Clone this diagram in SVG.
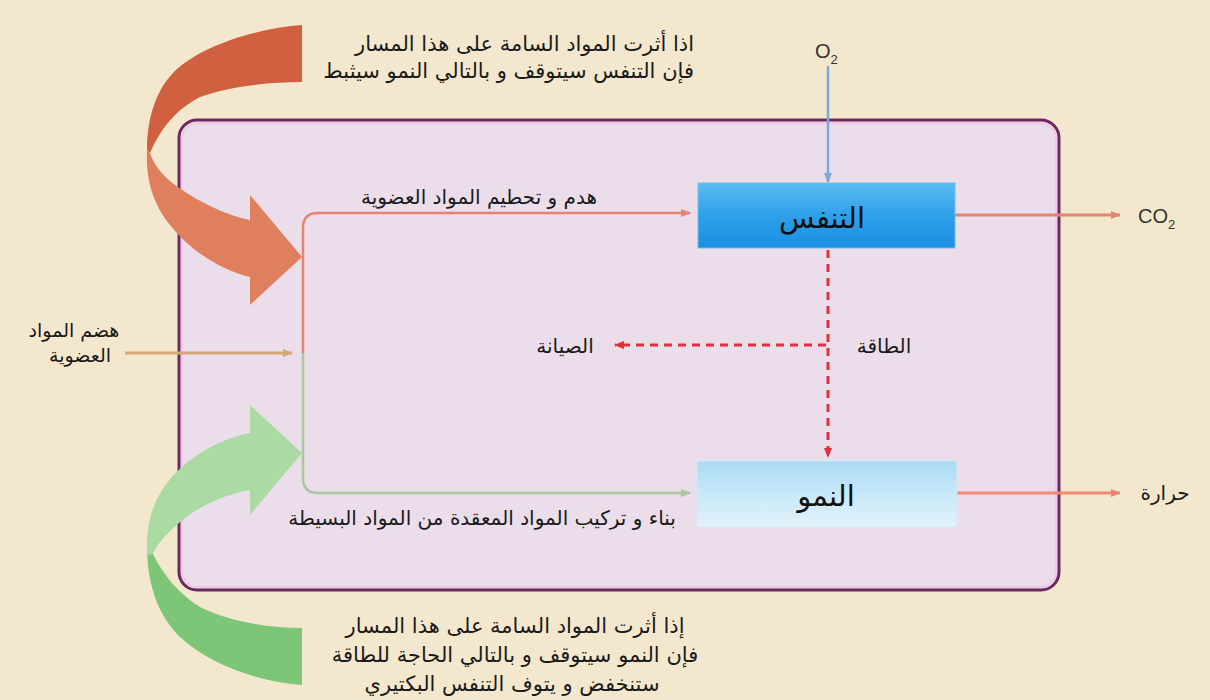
<svg xmlns="http://www.w3.org/2000/svg" width="1210" height="700" viewBox="0 0 1210 700">
<style>
.ar{font-family:"DejaVu Sans",sans-serif;fill:#1a1a1a;}
.lat{font-family:"Liberation Sans",Arial,sans-serif;fill:#333;}
.box{font-family:"DejaVu Serif","DejaVu Sans",serif;fill:#111;}
</style>
<defs>
<linearGradient id="gResp" x1="0" y1="0" x2="0" y2="1">
<stop offset="0" stop-color="#5cbcf0"/><stop offset="0.5" stop-color="#2ea0e8"/><stop offset="1" stop-color="#1a8fe2"/>
</linearGradient>
<linearGradient id="gGrow" x1="0" y1="0" x2="0" y2="1">
<stop offset="0" stop-color="#a9dbf4"/><stop offset="0.5" stop-color="#c8e8f8"/><stop offset="1" stop-color="#e3f2fb"/>
</linearGradient>
<marker id="mOr" markerWidth="10" markerHeight="8" refX="9" refY="4" orient="auto" markerUnits="userSpaceOnUse"><path d="M0,0 L10,4 L0,8 Z" fill="#e58470"/></marker>
<marker id="mRed" markerWidth="10" markerHeight="8" refX="9" refY="4" orient="auto" markerUnits="userSpaceOnUse"><path d="M0,0 L10,4 L0,8 Z" fill="#e0303a"/></marker>
<marker id="mBlue" markerWidth="10" markerHeight="8" refX="9" refY="4" orient="auto" markerUnits="userSpaceOnUse"><path d="M0,0 L10,4 L0,8 Z" fill="#7aaad8"/></marker>
<marker id="mGr" markerWidth="10" markerHeight="8" refX="9" refY="4" orient="auto" markerUnits="userSpaceOnUse"><path d="M0,0 L10,4 L0,8 Z" fill="#a8c8a0"/></marker>
<marker id="mTan" markerWidth="10" markerHeight="8" refX="9" refY="4" orient="auto" markerUnits="userSpaceOnUse"><path d="M0,0 L10,4 L0,8 Z" fill="#d8a878"/></marker>
</defs>
<rect width="1210" height="700" fill="#f3e8cd"/>

<g id="cell">
<rect x="179" y="120" width="880" height="470" rx="18" fill="#ebdeea" stroke="#6a2a60" stroke-width="3"/>
<rect x="182" y="123" width="874" height="464" rx="16" fill="none" stroke="#f2c8e4" stroke-width="2"/>
</g>

<g id="toxic-top-arrow">
<path d="M302,25 C260,28 200,45 173,73 C155,92 147,120 147,150 L150,153 C160,130 175,110 200,97 C230,86 270,82 302,82 Z" fill="#d0603f"/>
<path d="M147,150 C146,175 150,200 170,225 C190,250 220,270 250,277 L250,305 L302,257 L250,195 L250,220 C225,215 195,200 175,185 C162,175 154,165 150,153 Z" fill="#e07f5e"/>
</g>

<g id="toxic-bottom-arrow">
<path d="M302,685 C260,682 210,665 180,637 C160,617 148,590 147,550 L153,554 C163,575 180,595 200,607 C230,622 270,628 302,628 Z" fill="#7dc577"/>
<path d="M147,555 C146,530 150,505 167,483 C185,460 215,440 250,433 L250,405 L302,453 L250,515 L250,490 C228,494 205,503 185,518 C170,530 158,542 153,554 Z" fill="#acdaa3"/>
</g>

<g id="connectors">
<path d="M303,353 L303,228 Q303,213 318,213 L690,213" fill="none" stroke="#e58470" stroke-width="2.5" marker-end="url(#mOr)"/>
<path d="M303,353 L303,478 Q303,493 318,493 L690,493" fill="none" stroke="#a8c8a0" stroke-width="2.5" marker-end="url(#mGr)"/>
<line x1="125" y1="353" x2="292" y2="353" stroke="#d8a878" stroke-width="3" marker-end="url(#mTan)"/>
<line x1="828" y1="66" x2="828" y2="182" stroke="#7aaad8" stroke-width="2.5" marker-end="url(#mBlue)"/>
<line x1="955" y1="215" x2="1120" y2="215" stroke="#e58470" stroke-width="3" marker-end="url(#mOr)"/>
<line x1="957" y1="493" x2="1120" y2="493" stroke="#f08a72" stroke-width="3" marker-end="url(#mOr)"/>
<line x1="828" y1="250" x2="828" y2="457" stroke="#e0303a" stroke-width="3" stroke-dasharray="8,6" marker-end="url(#mRed)"/>
<line x1="826" y1="345" x2="615" y2="345" stroke="#e0303a" stroke-width="3" stroke-dasharray="8,6" marker-end="url(#mRed)"/>
</g>

<g id="node-respiration">
<rect x="698" y="183" width="257" height="65" fill="url(#gResp)" stroke="#6cc0ee" stroke-width="1"/>
<text class="box" x="822" y="228" font-size="29" text-anchor="middle" direction="rtl">التنفس</text>
</g>
<g id="node-growth">
<rect x="697" y="461" width="260" height="66" fill="url(#gGrow)" stroke="#cfe8f5" stroke-width="1"/>
<text class="box" x="826" y="506" font-size="29" text-anchor="middle" direction="rtl">النمو</text>
</g>

<g id="labels">
<text class="ar" x="694" y="51" font-size="21" text-anchor="start" direction="rtl">اذا أثرت المواد السامة على هذا المسار</text>
<text class="ar" x="694" y="78" font-size="21" text-anchor="start" direction="rtl">فإن التنفس سيتوقف و بالتالي النمو سيثبط</text>
<text class="ar" x="479" y="204" font-size="20" text-anchor="middle" direction="rtl">هدم و تحطيم المواد العضوية</text>
<text class="ar" x="482" y="525" font-size="20" text-anchor="middle" direction="rtl">بناء و تركيب المواد المعقدة من المواد البسيطة</text>
<text class="ar" x="884" y="353" font-size="20" text-anchor="middle" direction="rtl">الطاقة</text>
<text class="ar" x="565" y="353" font-size="20" text-anchor="middle" direction="rtl">الصيانة</text>
<text class="ar" x="74" y="337" font-size="19" text-anchor="middle" direction="rtl">هضم المواد</text>
<text class="ar" x="80" y="362" font-size="19" text-anchor="middle" direction="rtl">العضوية</text>
<text class="ar" x="1165" y="500" font-size="20" text-anchor="middle" direction="rtl">حرارة</text>
<text class="ar" x="515" y="633" font-size="21" text-anchor="middle" direction="rtl">إذا أثرت المواد السامة على هذا المسار</text>
<text class="ar" x="515" y="662" font-size="21" text-anchor="middle" direction="rtl">فإن النمو سيتوقف و بالتالي الحاجة للطاقة</text>
<text class="ar" x="512" y="691" font-size="21" text-anchor="middle" direction="rtl">ستنخفض و يتوف التنفس البكتيري</text>
<text class="lat" x="815" y="58" font-size="20">O<tspan font-size="13" dy="6">2</tspan></text>
<text class="lat" x="1138" y="223" font-size="20">CO<tspan font-size="13" dy="6">2</tspan></text>
</g>
</svg>
